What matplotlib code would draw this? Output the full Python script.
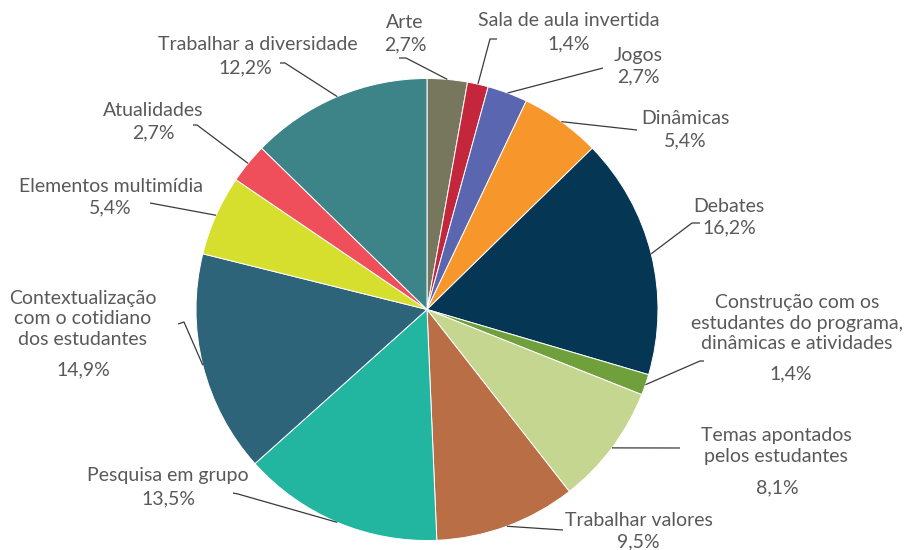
import matplotlib
matplotlib.use("Agg")
import matplotlib.pyplot as plt
import numpy as np

# ---- data ----
categories = ["Arte", "Sala de aula invertida", "Jogos", "Dinâmicas", "Debates",
              "Construção com os\nestudantes do programa,\ndinâmicas e atividades",
              "Temas apontados\npelos estudantes", "Trabalhar valores",
              "Pesquisa em grupo", "Contextualização\ncom o cotidiano\ndos estudantes",
              "Elementos multimídia", "Atualidades", "Trabalhar a diversidade"]
values = [2.7, 1.4, 2.7, 5.4, 16.2, 1.4, 8.1, 9.5, 13.5, 14.9, 5.4, 2.7, 12.2]
colors = ["#76775C", "#C4273B", "#5A66B0", "#F7962B", "#053654", "#70A03C",
          "#C5D690", "#BA6E46", "#22B59F", "#2E6479", "#D6DF2D", "#EF4E5B", "#3D8489"]

# ---- layout (pixel positions, y from top) ----
W, H = 906, 550
CX, CY, R = 427, 309.5, 231
title_xy = [(405, 23), (569, 20), (638, 55), (685, 119), (729, 207), (797, 323),
            (776, 446), (639, 521), (168, 475), (83, 319), (111, 186), (153, 110), (258, 44)]
pct_xy = [(405, 45), (569, 44), (638, 77), (685, 141), (729, 228), (791, 374),
          (777, 488), (638, 542), (168, 499), (83, 370), (110, 208), (153, 133), (245, 68)]
line_pts = [[(399, 58), (406, 58)], [(497, 39), (490, 39)], [(603, 68)], [(637, 130)],
            [(700, 223), (692, 223)], [(704, 361), (700, 361)], [(680, 448)],
            [(563, 530)], [(233, 493), (238, 494)], [(178, 324), (184, 322)],
            [(150, 203)], [(193, 125), (197, 125)], [(280, 63), (285, 63)]]

plt.rcParams['font.family'] = ['Lato', 'DejaVu Sans']
TXT = "#595959"
FS = 14

fig = plt.figure(figsize=(W / 100, H / 100), dpi=100)
ax = fig.add_axes([0, 0, 1, 1])

def P(x, y):
    return (x, H - y)

wedges, _ = ax.pie(values, colors=colors, startangle=90, counterclock=False,
                   radius=R, center=P(CX, CY),
                   wedgeprops=dict(edgecolor="white", linewidth=0.7))

total = sum(values)
cum = 0.0
for i, v in enumerate(values):
    mid = (cum + v / 2) / total * 2 * np.pi
    cum += v
    ex = CX + R * np.sin(mid)
    ey = CY - R * np.cos(mid)
    pts = [P(ex, ey)] + [P(*p) for p in line_pts[i][::-1]]
    xs, ys = zip(*pts)
    ax.plot(xs, ys, color="#3a3a3a", lw=0.9, solid_capstyle="butt")
    ax.text(*P(*title_xy[i]), categories[i], ha="center", va="center", fontsize=FS,
            color=TXT, fontweight="normal", linespacing=1.25)
    ax.text(*P(*pct_xy[i]), f"{v:.1f}%".replace(".", ","), ha="center", va="center",
            fontsize=FS, color=TXT, fontweight="normal")

ax.set_xlim(0, W)
ax.set_ylim(0, H)
ax.set_aspect("equal")
ax.axis("off")
fig.savefig("out.png", dpi=100)
